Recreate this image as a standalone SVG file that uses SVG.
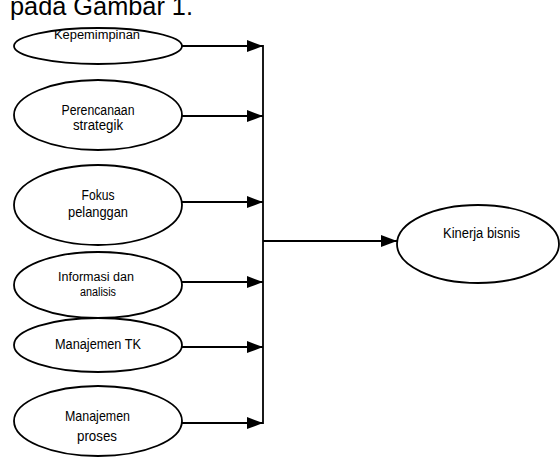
<svg xmlns="http://www.w3.org/2000/svg" width="560" height="459" viewBox="0 0 560 459">
<defs>
<style>
.n{fill:#fff;stroke:#000;stroke-width:1.8}
.t{font-family:"Liberation Sans",Arial,sans-serif;fill:#000;text-anchor:middle}
.c{stroke:#000;stroke-width:1.8;fill:none}
</style>
<marker id="ah" viewBox="0 0 16 12" refX="16" refY="6" markerWidth="16" markerHeight="12" markerUnits="userSpaceOnUse" orient="auto">
<path d="M0,0 L16,6 L0,12 Z" fill="#000"/>
</marker>
</defs>
<rect width="560" height="459" fill="#fff"/>
<text x="10" y="15" font-family="Liberation Sans, Arial, sans-serif" font-size="25" fill="#000" textLength="183" lengthAdjust="spacingAndGlyphs">pada Gambar 1.</text>
<g id="connectors">
<line class="c" x1="182" y1="46" x2="263" y2="46" marker-end="url(#ah)"/>
<line class="c" x1="182" y1="116" x2="263" y2="116" marker-end="url(#ah)"/>
<line class="c" x1="182" y1="202" x2="263" y2="202" marker-end="url(#ah)"/>
<line class="c" x1="182" y1="282" x2="263" y2="282" marker-end="url(#ah)"/>
<line class="c" x1="182" y1="347" x2="263" y2="347" marker-end="url(#ah)"/>
<line class="c" x1="182" y1="423" x2="263" y2="423" marker-end="url(#ah)"/>
<line class="c" x1="263" y1="45" x2="263" y2="424" stroke-width="2.2"/>
<line class="c" x1="263" y1="241" x2="397" y2="241" marker-end="url(#ah)"/>
</g>
<g id="kepemimpinan">
<ellipse class="n" cx="98" cy="46" rx="84" ry="18"/>
<text class="t" x="97" y="39" font-size="12.5" textLength="86" lengthAdjust="spacingAndGlyphs">Kepemimpinan</text>
</g>
<g id="perencanaan">
<ellipse class="n" cx="98" cy="115" rx="84" ry="35"/>
<text class="t" x="98" y="115" font-size="14" textLength="73" lengthAdjust="spacingAndGlyphs">Perencanaan</text>
<text class="t" x="98" y="130" font-size="14" textLength="50" lengthAdjust="spacingAndGlyphs">strategik</text>
</g>
<g id="fokus">
<ellipse class="n" cx="98" cy="205" rx="84" ry="40"/>
<text class="t" x="98" y="200" font-size="15" textLength="33" lengthAdjust="spacingAndGlyphs">Fokus</text>
<text class="t" x="98" y="217" font-size="15" textLength="60" lengthAdjust="spacingAndGlyphs">pelanggan</text>
</g>
<g id="informasi">
<ellipse class="n" cx="98" cy="285" rx="84" ry="33"/>
<text class="t" x="96" y="281" font-size="12.5" textLength="76" lengthAdjust="spacingAndGlyphs">Informasi dan</text>
<text class="t" x="98" y="296" font-size="12.5" textLength="36" lengthAdjust="spacingAndGlyphs">analisis</text>
</g>
<g id="manajemen-tk">
<ellipse class="n" cx="98" cy="345" rx="84" ry="27"/>
<text class="t" x="98" y="349" font-size="15.5" textLength="86" lengthAdjust="spacingAndGlyphs">Manajemen TK</text>
</g>
<g id="manajemen-proses">
<ellipse class="n" cx="98" cy="421" rx="84" ry="35"/>
<text class="t" x="97.5" y="421" font-size="15" textLength="65" lengthAdjust="spacingAndGlyphs">Manajemen</text>
<text class="t" x="97" y="441" font-size="15" textLength="40" lengthAdjust="spacingAndGlyphs">proses</text>
</g>
<g id="kinerja">
<ellipse class="n" cx="478" cy="244" rx="81" ry="39"/>
<text class="t" x="481.5" y="238" font-size="14" textLength="77" lengthAdjust="spacingAndGlyphs">Kinerja bisnis</text>
</g>
</svg>
